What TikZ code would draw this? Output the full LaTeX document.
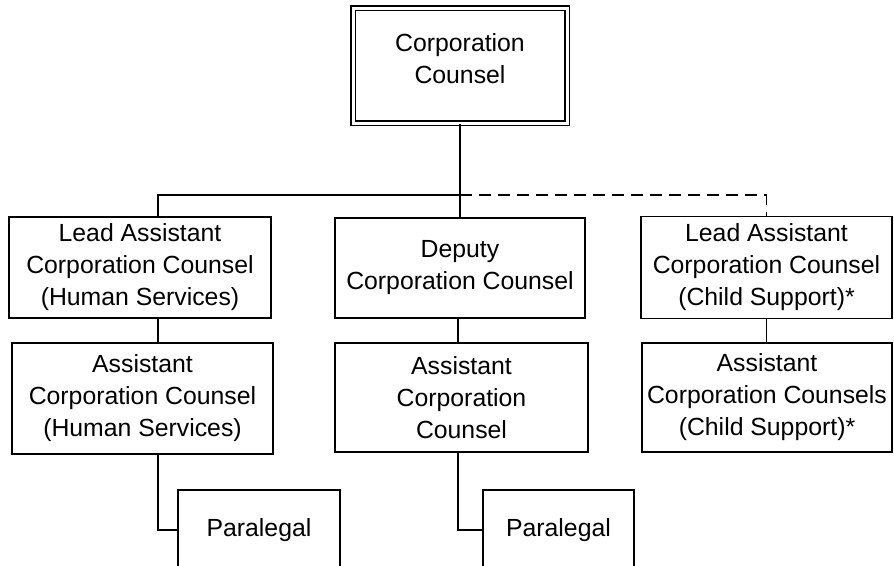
\documentclass[tikz,border=0pt]{standalone}
\usepackage{fontspec}
\setmainfont{Liberation Sans}
\tikzstyle{box}=[draw,rectangle,line width=1.8pt,align=center,inner sep=0pt,font=\fontsize{24.8}{32}\selectfont]
\tikzstyle{topbox}=[box,double,line width=1.6pt,double distance=3pt,text depth=13pt]
\tikzstyle{link}=[line width=1.8pt]
\tikzstyle{dotted link}=[line width=1.8pt,dash pattern=on 12pt off 7pt]

\begin{document}
\begin{tikzpicture}[x=1pt, y=-1pt]
\clip (0, 0) rectangle (894, 565);
\node[topbox, minimum width=214pt, minimum height=115pt] at (460, 65.5) (cc) {Corporation\\Counsel};
\node[box, minimum width=262pt, minimum height=101pt] at (140, 267.5) (lh) {Lead Assistant\\Corporation Counsel\\(Human Services)};
\node[box, minimum width=250pt, minimum height=100pt] at (460, 268) (dp) {Deputy\\Corporation Counsel};
\node[box, minimum width=251pt, minimum height=102pt] at (766.5, 267.5) (lc) {Lead Assistant\\Corporation Counsel\\(Child Support)*};
\node[box, minimum width=261pt, minimum height=111pt] at (142.5, 398.5) (ah) {Assistant\\Corporation Counsel\\(Human Services)};
\node[box, minimum width=253pt, minimum height=109pt] at (461.5, 397.5) (ad) {Assistant\\Corporation\\Counsel};
\node[box, minimum width=250pt, minimum height=109pt] at (767, 397.5) (ac) {Assistant\\Corporation Counsels\\(Child Support)*};
\node[box, minimum width=162pt, minimum height=80pt] at (259, 530) (pl) {Paralegal};
\node[box, minimum width=151pt, minimum height=80pt] at (558.5, 530) (pm) {Paralegal};

\coordinate (hub) at (460, 195);
\coordinate (lcol) at (158, 0);
\coordinate (mcol) at (458, 0);

\draw[link] (cc) -- (dp);
\draw[link] (hub) -| (lh.north -| lcol);
\draw[dotted link] (hub) -| (lc.north);
\draw[link] (lh.south -| lcol) -- (ah.north -| lcol);
\draw[link] (dp.south -| mcol) -- (ad.north -| mcol);
\draw[link] (lc.south) -- (ac.north -| lc.south);
\draw[link] (ah.south -| lcol) |- (pl.west);
\draw[link] (ad.south -| mcol) |- (pm.west);
\end{tikzpicture}
\end{document}
